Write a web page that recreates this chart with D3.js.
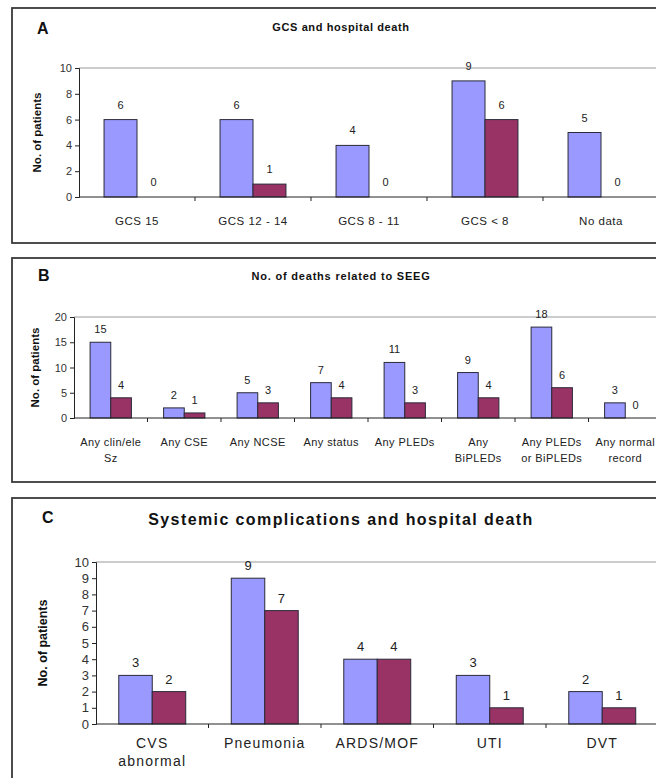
<!DOCTYPE html>
<html>
<head>
<meta charset="utf-8">
<script src="https://cdn.jsdelivr.net/npm/d3@7"></script>
<style>
  body { margin: 0; background: #fff; }
  svg { display: block; font-family: "Liberation Sans", Arial, sans-serif; }
</style>
</head>
<body>
<svg id="chart" width="656" height="778"></svg>
<script>
// Panel A - GCS and hospital death
const gcsCategories = [["GCS 15"], ["GCS 12 - 14"], ["GCS 8 - 11"], ["GCS < 8"], ["No data"]];
const gcsPatients = [6, 6, 4, 9, 5];
const gcsDeaths = [0, 1, 0, 6, 0];
const gcsTicks = [0, 2, 4, 6, 8, 10];

// Panel B - SEEG findings
const seegCategories = [["Any clin/ele", "Sz"], ["Any CSE"], ["Any NCSE"], ["Any status"], ["Any PLEDs"],
  ["Any", "BiPLEDs"], ["Any PLEDs", "or BiPLEDs"], ["Any normal", "record"]];
const seegPatients = [15, 2, 5, 7, 11, 9, 18, 3];
const seegDeaths = [4, 1, 3, 4, 3, 4, 6, 0];
const seegTicks = [0, 5, 10, 15, 20];

// Panel C - systemic complications
const compCategories = [["CVS", "abnormal"], ["Pneumonia"], ["ARDS/MOF"], ["UTI"], ["DVT"]];
const compPatients = [3, 9, 4, 3, 2];
const compDeaths = [2, 7, 4, 1, 1];
const compTicks = [0, 1, 2, 3, 4, 5, 6, 7, 8, 9, 10];

const svg = d3.select("#chart");
const BLUE = "#9999ff", MAROON = "#993366";

function drawPanel(p) {
  const g = svg.append("g");

  // outer frame
  g.append("rect")
    .attr("x", p.box[0]).attr("y", p.box[1])
    .attr("width", p.box[2]).attr("height", p.box[3])
    .attr("fill", "none").attr("stroke", "#3a3a3a").attr("stroke-width", 1.8);

  g.append("text").attr("x", p.letter[0]).attr("y", p.letter[1])
    .attr("font-size", 16).attr("font-weight", "bold").attr("fill", "#111")
    .text(p.name);

  g.append("text").attr("x", 341).attr("y", p.titleY)
    .attr("text-anchor", "middle").attr("font-size", p.titleSize).attr("font-weight", "bold")
    .attr("letter-spacing", p.titleSpacing)
    .attr("fill", "#111").text(p.title);

  const x = d3.scaleBand().domain(d3.range(p.categories.length))
    .range([p.x0, p.x1]).paddingInner(0).paddingOuter(0);
  const y = d3.scaleLinear().domain([0, p.ticks[p.ticks.length - 1]]).range([p.base, p.top]);
  const inner = d3.scaleBand().domain(["patients", "deaths"])
    .range([0, x.bandwidth()]).paddingInner(0).paddingOuter(p.outerPad);

  // plot area top border
  g.append("line")
    .attr("x1", p.x0).attr("x2", 700)
    .attr("y1", y(p.ticks[p.ticks.length - 1])).attr("y2", y(p.ticks[p.ticks.length - 1]))
    .attr("stroke", "#9a9a9a");

  const rows = p.categories.map((c, i) => ({ i, patients: p.patients[i], deaths: p.deaths[i] }));

  const groups = g.selectAll(".grp").data(rows).enter().append("g")
    .attr("transform", d => `translate(${x(d.i)},0)`);

  groups.selectAll("rect")
    .data(d => [{ k: "patients", v: d.patients }, { k: "deaths", v: d.deaths }])
    .enter().append("rect")
    .attr("x", d => inner(d.k))
    .attr("y", d => y(d.v))
    .attr("width", inner.bandwidth())
    .attr("height", d => y(0) - y(d.v))
    .attr("fill", d => d.k === "patients" ? BLUE : MAROON)
    .attr("stroke", d => d.v > 0 ? "#2a2a3a" : "none")
    .attr("stroke-width", 1);

  groups.selectAll("text.val")
    .data(d => [{ k: "patients", v: d.patients }, { k: "deaths", v: d.deaths }])
    .enter().append("text")
    .attr("class", "val")
    .attr("x", d => inner(d.k) + inner.bandwidth() / 2)
    .attr("y", d => y(d.v) - p.valOffset)
    .attr("text-anchor", "middle").attr("font-size", p.valSize).attr("fill", "#222")
    .text(d => d.v);

  // y axis
  const yAxis = g.append("g").attr("transform", `translate(${p.x0},0)`)
    .call(d3.axisLeft(y).tickValues(p.ticks).tickSize(4).tickPadding(3).tickFormat(d3.format("d")));
  yAxis.selectAll("text").attr("font-size", p.tickSize).attr("fill", "#333")
    .attr("font-family", "Liberation Sans, Arial, sans-serif");
  yAxis.selectAll("line, path").attr("stroke", "#222");

  // x axis line with ticks between categories
  g.append("line").attr("x1", p.x0).attr("x2", 700)
    .attr("y1", y(0)).attr("y2", y(0)).attr("stroke", "#222");
  g.selectAll(".xt").data(d3.range(1, p.categories.length + 1)).enter().append("line")
    .attr("x1", d => p.x0 + d * x.step()).attr("x2", d => p.x0 + d * x.step())
    .attr("y1", y(0)).attr("y2", y(0) + 4).attr("stroke", "#222");

  // category labels
  const labels = g.selectAll(".cat").data(p.categories).enter().append("text")
    .attr("text-anchor", "middle").attr("font-size", p.catSize).attr("fill", "#222")
    .attr("letter-spacing", p.catSpacing)
    .attr("x", (d, i) => x(i) + x.bandwidth() / 2)
    .attr("y", p.catY);
  labels.selectAll("tspan").data(d => d).enter().append("tspan")
    .attr("x", function () { return d3.select(this.parentNode).attr("x"); })
    .attr("dy", (d, j) => j === 0 ? 0 : p.lineH)
    .text(d => d);

  // y axis title
  g.append("text")
    .attr("transform", `translate(${p.yLabelX},${(p.top + p.base) / 2}) rotate(-90)`)
    .attr("text-anchor", "middle").attr("font-size", p.yLabelSize).attr("font-weight", "bold")
    .attr("fill", "#111").text("No. of patients");
}

drawPanel({
  name: "A", title: "GCS and hospital death", box: [12, 8, 700, 235], letter: [37, 34],
  titleY: 31, titleSize: 11, titleSpacing: 0.6, x0: 79, x1: 659, top: 68, base: 197,
  categories: gcsCategories, patients: gcsPatients, deaths: gcsDeaths, ticks: gcsTicks,
  outerPad: 0.76, valOffset: 11, valSize: 11, tickSize: 11, catSize: 11.5, catSpacing: 0.5, catY: 225, lineH: 16,
  yLabelX: 41, yLabelSize: 11.5
});

drawPanel({
  name: "B", title: "No. of deaths related to SEEG", box: [12, 258, 700, 224], letter: [38, 281],
  titleY: 280, titleSize: 11, titleSpacing: 0.8, x0: 74, x1: 662, top: 317, base: 418,
  categories: seegCategories, patients: seegPatients, deaths: seegDeaths, ticks: seegTicks,
  outerPad: 0.78, valOffset: 9, valSize: 11, tickSize: 11, catSize: 11, catSpacing: 0.4, catY: 446, lineH: 16,
  yLabelX: 39, yLabelSize: 11.5
});

drawPanel({
  name: "C", title: "Systemic complications and hospital death", box: [12, 498, 700, 300], letter: [42, 523],
  titleY: 525, titleSize: 16, titleSpacing: 1.4, x0: 96, x1: 658.5, top: 562, base: 724,
  categories: compCategories, patients: compPatients, deaths: compDeaths, ticks: compTicks,
  outerPad: 0.68, valOffset: 8, valSize: 13, tickSize: 13, catSize: 14, catSpacing: 1.2, catY: 748, lineH: 18,
  yLabelX: 47, yLabelSize: 12.5
});
</script>
</body>
</html>
